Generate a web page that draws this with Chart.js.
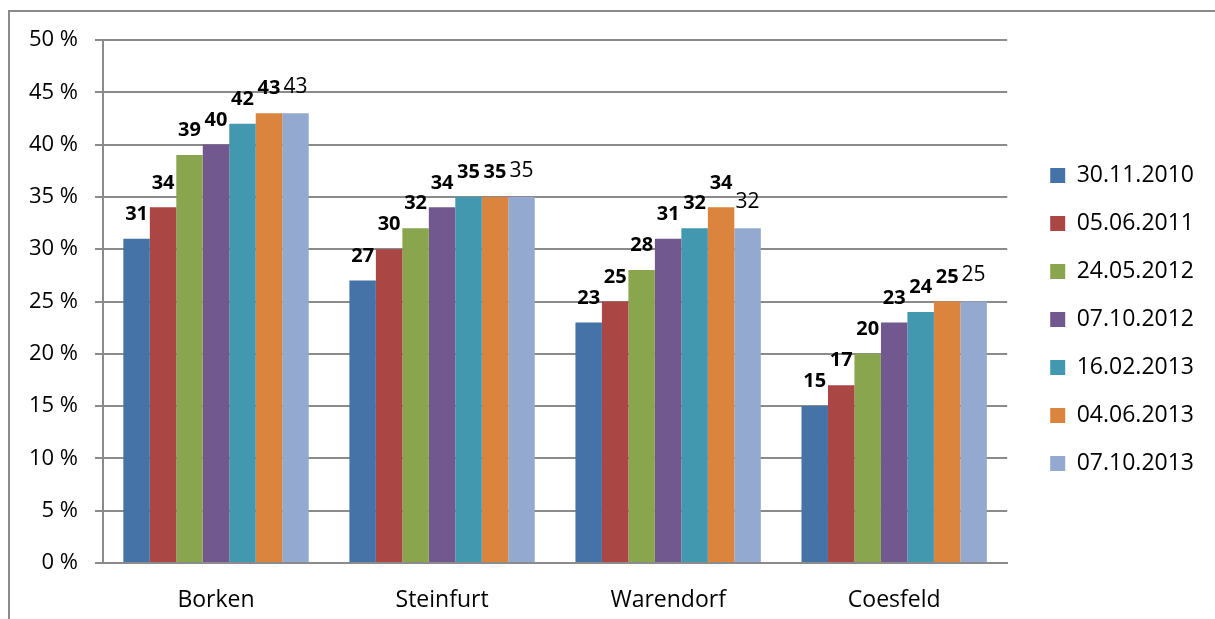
<!DOCTYPE html>
<html>
<head>
<meta charset="utf-8">
<script src="https://cdn.jsdelivr.net/npm/chart.js@4/dist/chart.umd.min.js"></script>
<style>
  html, body { margin: 0; padding: 0; background: #fff; }
  canvas { display: block; }
</style>
</head>
<body>
<canvas id="c" width="1215" height="619"></canvas>
<script>
// ---- Data ----
const categories = ["Borken", "Steinfurt", "Warendorf", "Coesfeld"];
const seriesNames = ["30.11.2010", "05.06.2011", "24.05.2012", "07.10.2012", "16.02.2013", "04.06.2013", "07.10.2013"];
const s20101130 = [31, 27, 23, 15];
const s20110605 = [34, 30, 25, 17];
const s20120524 = [39, 32, 28, 20];
const s20121007 = [40, 34, 31, 23];
const s20130216 = [42, 35, 32, 24];
const s20130604 = [43, 35, 34, 25];
const s20131007 = [43, 35, 32, 25];
const seriesValues = [s20101130, s20110605, s20120524, s20121007, s20130216, s20130604, s20131007];
const yTicks = [0, 5, 10, 15, 20, 25, 30, 35, 40, 45, 50];

const colors = ["#4572A7", "#AA4643", "#89A54E", "#71588F", "#4198AF", "#DB843D", "#93A9CF"];
const FONT = '"Open Sans", "Noto Sans", sans-serif';
const GRID = '#8b8b8b';

const frame = {
  id: 'frame',
  beforeDraw(chart) {
    const ctx = chart.ctx;
    ctx.save();
    ctx.fillStyle = '#fff';
    ctx.fillRect(0, 0, chart.width, chart.height);
    ctx.strokeStyle = '#8a8a8a';
    ctx.lineWidth = 2;
    ctx.beginPath();
    ctx.moveTo(9, chart.height + 5);
    ctx.lineTo(9, 11);
    ctx.lineTo(chart.width + 5, 11);
    ctx.stroke();
    ctx.restore();
  }
};

const barLabels = {
  id: 'barLabels',
  afterDatasetsDraw(chart) {
    const ctx = chart.ctx;
    const n = chart.data.datasets.length;
    ctx.save();
    ctx.fillStyle = '#000';
    ctx.textAlign = 'center';
    ctx.textBaseline = 'middle';
    chart.data.datasets.forEach((ds, di) => {
      const meta = chart.getDatasetMeta(di);
      const last = di === n - 1;
      ctx.font = last ? ('21px ' + FONT) : ('bold 20px ' + FONT);
      meta.data.forEach((bar, i) => {
        ctx.fillText(String(ds.data[i]), bar.x, bar.y - (last ? 26 : 24.5));
      });
    });
    ctx.restore();
  }
};

Chart.defaults.color = '#000';
Chart.defaults.font.family = FONT;

new Chart(document.getElementById('c'), {
  type: 'bar',
  data: {
    labels: categories,
    datasets: seriesNames.map((name, i) => ({
      label: name,
      data: seriesValues[i],
      backgroundColor: colors[i],
      borderWidth: 0,
      barPercentage: 1.0,
      categoryPercentage: 0.82
    }))
  },
  options: {
    responsive: false,
    devicePixelRatio: 1,
    animation: false,
    layout: { padding: { left: 0, top: 20, right: 11, bottom: 0 } },
    plugins: {
      legend: {
        position: 'right',
        labels: {
          boxWidth: 15,
          boxHeight: 15,
          padding: 25,
          color: '#000',
          font: { size: 23, family: FONT }
        }
      },
      tooltip: { enabled: false }
    },
    scales: {
      x: {
        grid: { display: false },
        border: { display: true, color: GRID, width: 2 },
        ticks: { padding: 16, color: '#000', font: { size: 23, family: FONT } },
        afterFit(s) { s.height = 56; }
      },
      y: {
        min: 0,
        max: 50,
        afterBuildTicks(s) { s.ticks = yTicks.map(v => ({ value: v })); },
        grid: { color: GRID, lineWidth: 2, tickLength: 8, drawTicks: true, tickColor: GRID },
        border: { display: true, color: GRID, width: 2 },
        ticks: {
          padding: 17,
          color: '#000',
          font: { size: 22, family: FONT },
          callback: v => v + ' %'
        },
        afterFit(s) { s.width = 103; }
      },
      yGap: {
        type: 'linear',
        position: 'right',
        display: true,
        grid: { display: false, drawOnChartArea: false },
        border: { display: false },
        ticks: { display: false },
        afterFit(s) { s.width = 18; }
      },
      xGap: {
        type: 'linear',
        position: 'top',
        display: true,
        grid: { display: false, drawOnChartArea: false },
        border: { display: false },
        ticks: { display: false },
        afterFit(s) { s.height = 20; }
      }
    }
  },
  plugins: [frame, barLabels]
});
</script>
</body>
</html>
